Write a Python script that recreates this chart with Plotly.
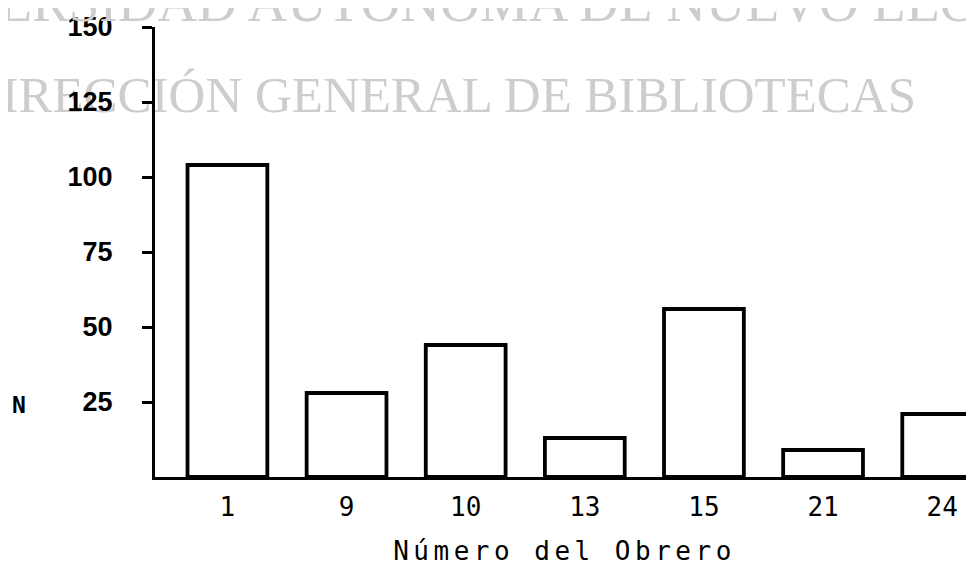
import plotly.graph_objects as go

# Data
categories = ["1", "9", "10", "13", "15", "21", "24"]
values = [104, 28, 44, 13, 56, 9, 21]
y_ticks = [25, 50, 75, 100, 125, 150]
x_title = "Número del Obrero"
y_title = "N"
watermark_lines = ["UNIVERSIDAD AUTÓNOMA DE NUEVO LEÓN", "DIRECCIÓN GENERAL DE BIBLIOTECAS"]

positions = list(range(len(categories)))

fig = go.Figure()

# scanned watermark, second line (drawn below the axes)
fig.add_trace(go.Scatter(
    x=[1.787], y=[125.8], mode="text", text=[watermark_lines[1]],
    textfont=dict(family="Liberation Serif", size=51, color="#cdcdcd"),
    cliponaxis=False, hoverinfo="skip", showlegend=False,
))

fig.add_trace(go.Bar(
    x=positions, y=values, width=0.67,
    marker=dict(color="white", line=dict(color="black", width=3.8)),
    showlegend=False, hoverinfo="skip",
))

fig.update_layout(
    width=966, height=560,
    margin=dict(l=146.5, r=0, t=19, b=90.5),
    plot_bgcolor="white", paper_bgcolor="white",
    xaxis=dict(
        range=[-0.608, 6.267], tickmode="array", tickvals=positions, ticktext=categories,
        showline=True, linecolor="black", linewidth=3, ticks="", showgrid=False, zeroline=False,
        tickfont=dict(family="DejaVu Sans Mono", size=26, color="black"),
        ticklabelstandoff=5,
        title=dict(text='<span style="letter-spacing:4.5px">' + x_title + '</span>',
                   font=dict(family="DejaVu Sans Mono", size=26, color="black"), standoff=21),
    ),
    yaxis=dict(
        range=[0, 150], tickmode="array", tickvals=y_ticks,
        ticks="outside", ticklen=10, tickwidth=3, tickcolor="black",
        showline=True, linecolor="black", linewidth=3, showgrid=False, zeroline=False,
        tickfont=dict(family="Liberation Sans", size=27, color="black", weight="bold"),
        ticklabelstandoff=24,
    ),
    annotations=[
        dict(
            text=y_title, xref="paper", yref="y", x=-0.1666, y=24, showarrow=False,
            xanchor="center", yanchor="middle",
            font=dict(family="DejaVu Sans Mono", size=23, color="black", weight="bold"),
        ),
        dict(
            text=watermark_lines[0], xref="paper", yref="paper", x=0.348, y=1.0555,
            showarrow=False, xanchor="center", yanchor="middle",
            font=dict(family="Liberation Serif", size=55, color="#cdcdcd"),
        ),
    ],
)

fig.write_html("out.html")
